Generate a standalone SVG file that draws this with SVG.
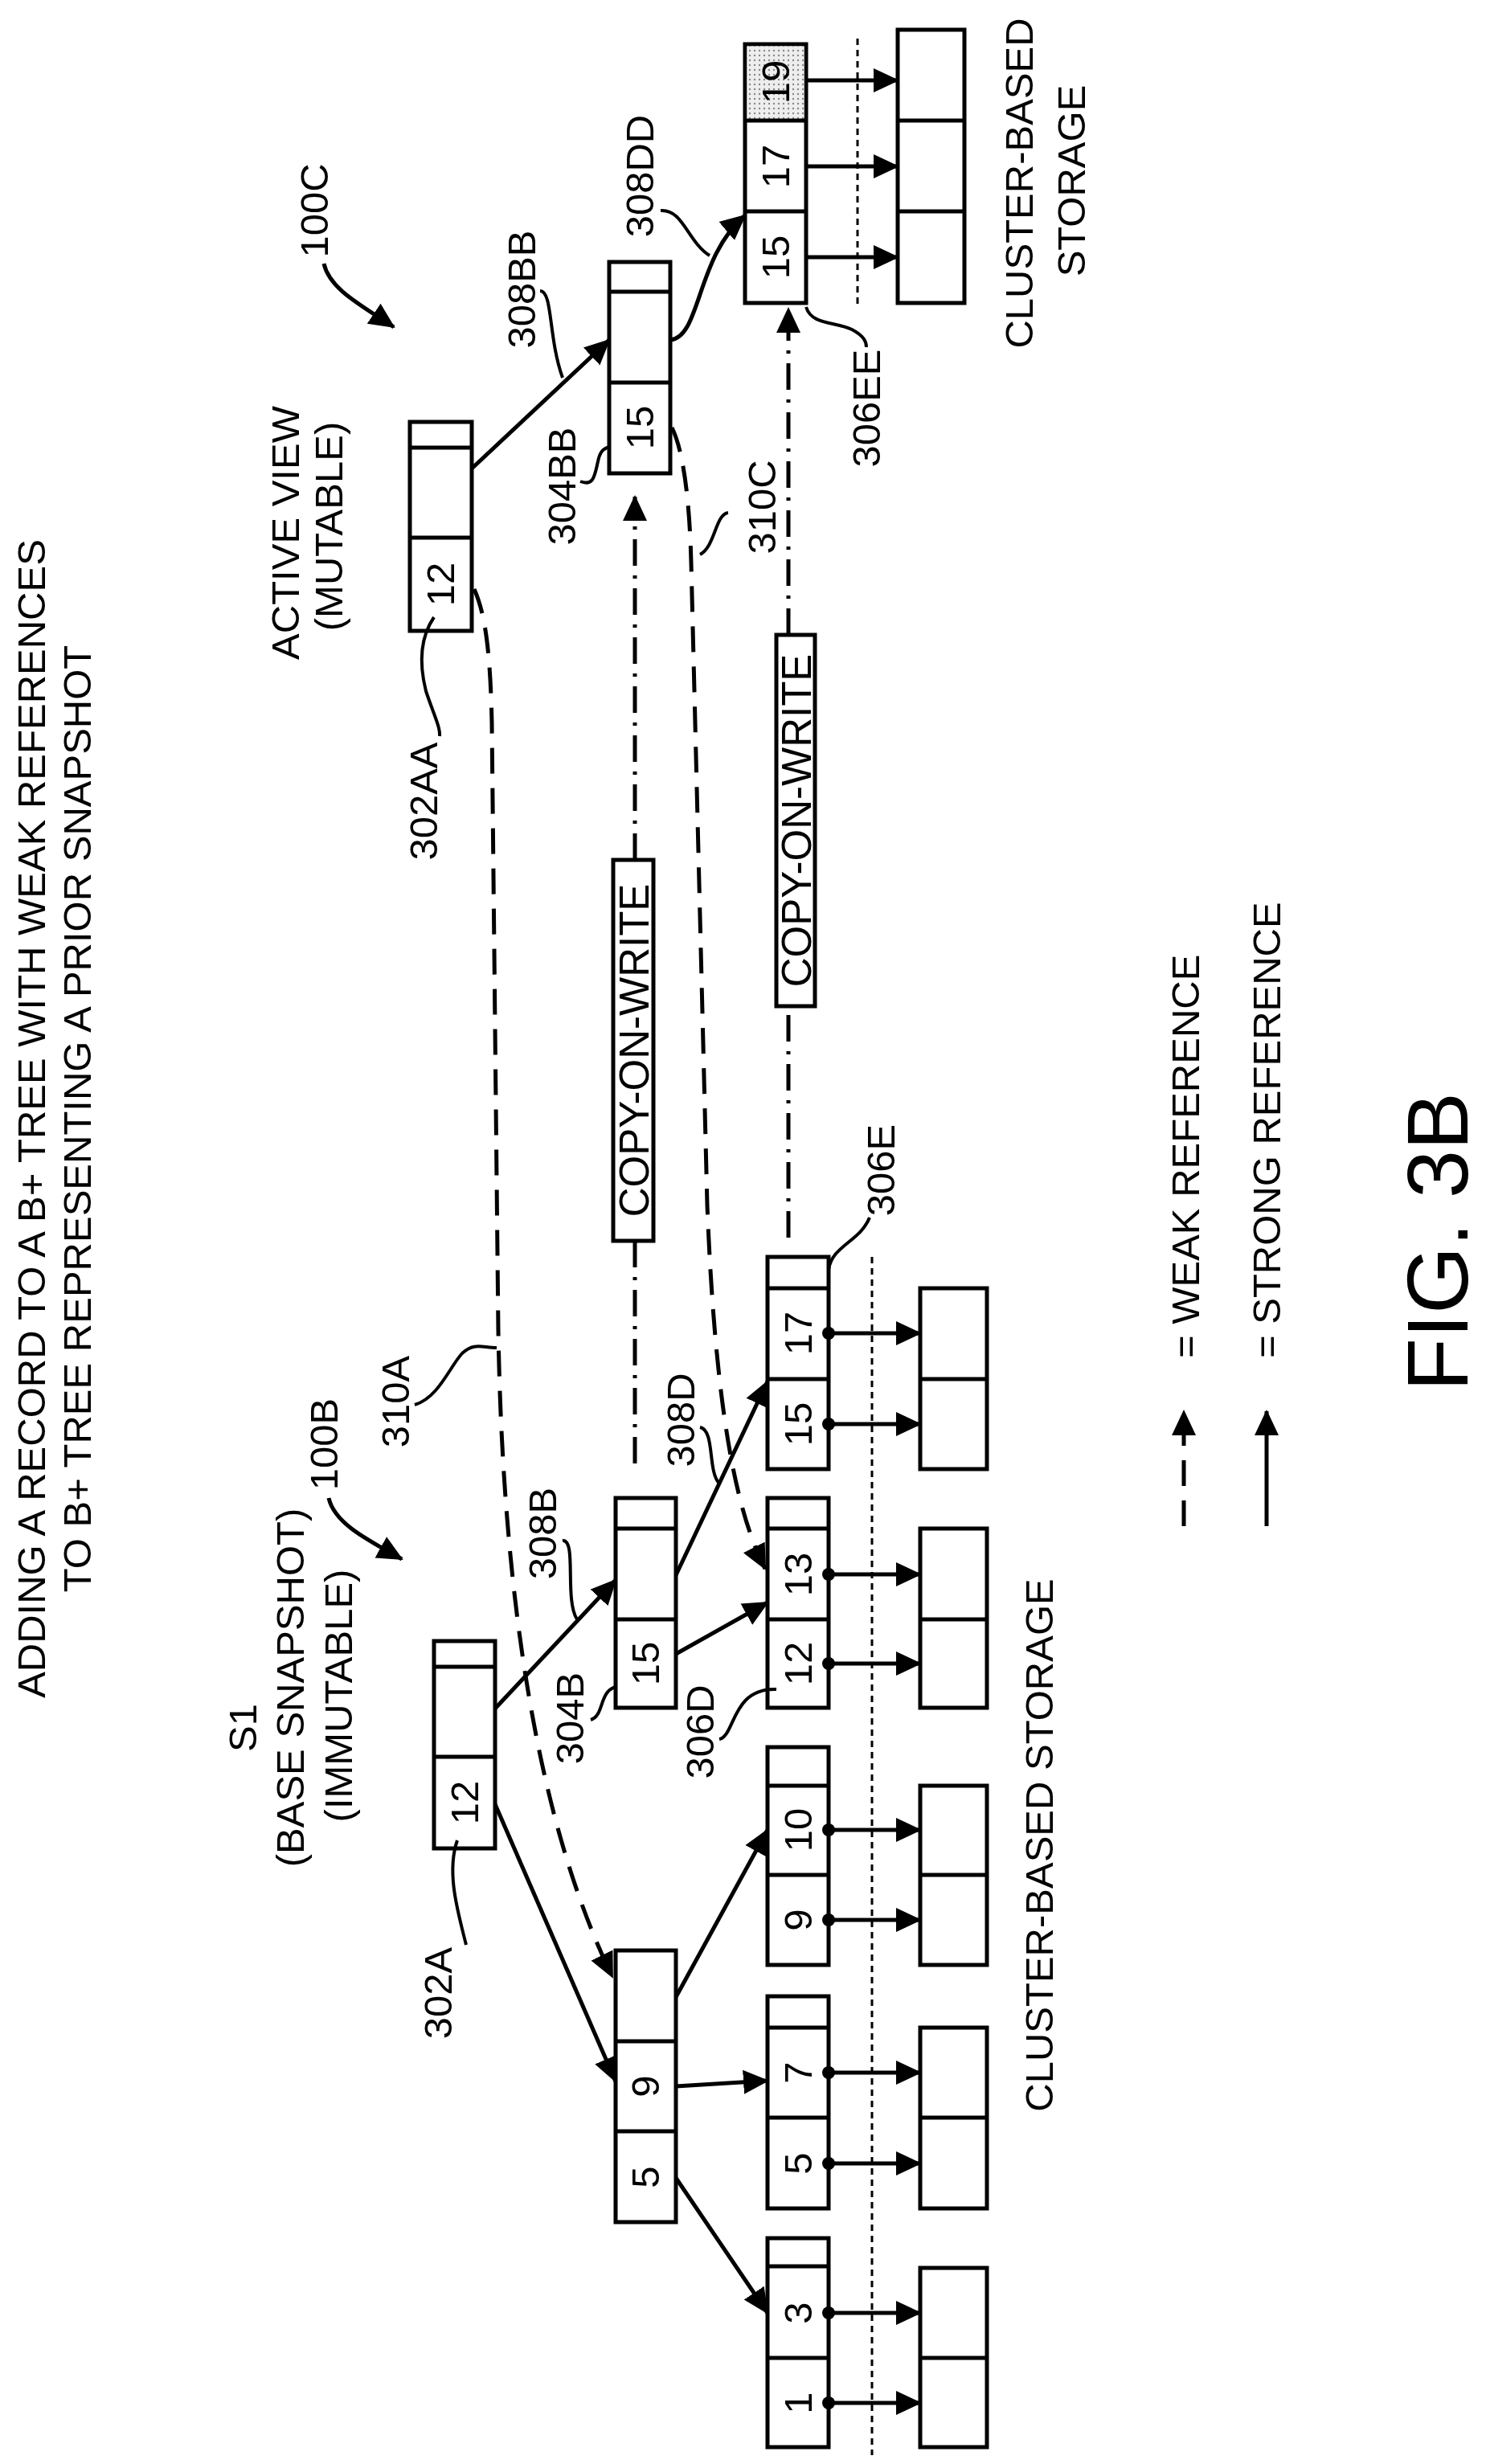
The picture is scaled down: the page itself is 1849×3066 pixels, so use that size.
<svg xmlns="http://www.w3.org/2000/svg" width="1849" height="3066" viewBox="0 0 1849 3066">
<style>
text{font-family:"Liberation Sans",Arial,sans-serif;font-size:49px;fill:#000;text-anchor:middle;dominant-baseline:central}
.box{fill:#fff;stroke:#000;stroke-width:5}
.ln{fill:none;stroke:#000;stroke-width:5}
.ld{fill:none;stroke:#000;stroke-width:4}
.weak{fill:none;stroke:#000;stroke-width:5;stroke-dasharray:32 18}
.dd{fill:none;stroke:#000;stroke-width:5;stroke-dasharray:33 12 4 12}
.dot{fill:none;stroke:#000;stroke-width:3;stroke-dasharray:8 6}
</style>
<defs>
<marker id="ah" markerUnits="userSpaceOnUse" markerWidth="32" markerHeight="32" viewBox="0 0 32 32" refX="30" refY="16" orient="auto"><path d="M0,1 L32,16 L0,31 Z" fill="#000"/></marker>
<pattern id="dots" width="6" height="6" patternUnits="userSpaceOnUse"><rect width="6" height="6" fill="#eee"/><circle cx="3" cy="3" r="1.2" fill="#888"/></pattern>
</defs>

<g id="title">
<text transform="translate(39,1392) rotate(-90)">ADDING A RECORD TO A B+ TREE WITH WEAK REFERENCES</text>
<text transform="translate(96,1392) rotate(-90)">TO B+ TREE REPRESENTING A PRIOR SNAPSHOT</text>
</g>

<g id="labels">
<text transform="translate(391,262) rotate(-90)">100C</text>
<text transform="translate(403,1797) rotate(-90)">100B</text>
<text transform="translate(355,663) rotate(-90)">ACTIVE VIEW</text>
<text transform="translate(409,655) rotate(-90)">(MUTABLE)</text>
<text transform="translate(302,2150) rotate(-90)">S1</text>
<text transform="translate(361,2100) rotate(-90)">(BASE SNAPSHOT)</text>
<text transform="translate(421,2110) rotate(-90)">(IMMUTABLE)</text>
<text transform="translate(527,997) rotate(-90)">302AA</text>
<text transform="translate(545,2480) rotate(-90)">302A</text>
<text transform="translate(699,605) rotate(-90)">304BB</text>
<text transform="translate(649,360) rotate(-90)">308BB</text>
<text transform="translate(796,219) rotate(-90)">308DD</text>
<text transform="translate(1078,508) rotate(-90)">306EE</text>
<text transform="translate(948,631) rotate(-90)">310C</text>
<text transform="translate(492,1744) rotate(-90)">310A</text>
<text transform="translate(709,2138) rotate(-90)">304B</text>
<text transform="translate(871,2155) rotate(-90)">306D</text>
<text transform="translate(675,1908) rotate(-90)">308B</text>
<text transform="translate(847,1767) rotate(-90)">308D</text>
<text transform="translate(1096,1456) rotate(-90)">306E</text>
<text transform="translate(1268,228) rotate(-90)">CLUSTER-BASED</text>
<text transform="translate(1333,225) rotate(-90)">STORAGE</text>
<text transform="translate(1293,2296) rotate(-90)">CLUSTER-BASED STORAGE</text>
<text transform="translate(1475,1690) rotate(-90)" style="text-anchor:start">= WEAK REFERENCE</text>
<text transform="translate(1576,1690) rotate(-90)" style="text-anchor:start">= STRONG REFERENCE</text>
<text transform="translate(1788,1545) rotate(-90)" style="font-size:108px">FIG. 3B</text>
</g>

<g id="n302AA"><rect class="box" x="510" y="525" width="77" height="260"/><path class="ln" d="M510,557H587M510,669H587"/><text transform="translate(548,727) rotate(-90)">12</text></g>
<g id="n304BB"><rect class="box" x="758" y="326" width="76" height="263"/><path class="ln" d="M758,363H834M758,476H834"/><text transform="translate(796,532) rotate(-90)">15</text></g>
<g id="n306EE"><rect class="box" x="927" y="55" width="76" height="322"/><rect x="929.5" y="57.5" width="71" height="92" fill="url(#dots)"/><path class="ln" d="M927,150H1003M927,263H1003"/><text transform="translate(965,102) rotate(-90)">19</text><text transform="translate(965,207) rotate(-90)">17</text><text transform="translate(965,320) rotate(-90)">15</text></g>
<g id="s306EE"><rect class="box" x="1117" y="37" width="83" height="340"/><path class="ln" d="M1117,150H1200M1117,263H1200"/></g>

<g id="n302A"><rect class="box" x="540" y="2042" width="76" height="258"/><path class="ln" d="M540,2074H616M540,2186H616"/><text transform="translate(578,2243) rotate(-90)">12</text></g>
<g id="n304B"><rect class="box" x="766" y="1864" width="75" height="261"/><path class="ln" d="M766,1902H841M766,2015H841"/><text transform="translate(803,2070) rotate(-90)">15</text></g>
<g id="n59"><rect class="box" x="766" y="2427" width="75" height="338"/><path class="ln" d="M766,2540H841M766,2652H841"/><text transform="translate(803,2596) rotate(-90)">9</text><text transform="translate(803,2709) rotate(-90)">5</text></g>

<g id="n306E"><rect class="box" x="955" y="1564" width="76" height="264"/><path class="ln" d="M955,1603H1031M955,1716H1031"/><text transform="translate(993,1659) rotate(-90)">17</text><text transform="translate(993,1772) rotate(-90)">15</text></g>
<g id="n306D"><rect class="box" x="955" y="1864" width="76" height="261"/><path class="ln" d="M955,1902H1031M955,2015H1031"/><text transform="translate(993,1959) rotate(-90)">13</text><text transform="translate(993,2070) rotate(-90)">12</text></g>
<g id="n910"><rect class="box" x="955" y="2174" width="76" height="271"/><path class="ln" d="M955,2222H1031M955,2333H1031"/><text transform="translate(993,2277) rotate(-90)">10</text><text transform="translate(993,2389) rotate(-90)">9</text></g>
<g id="n57"><rect class="box" x="955" y="2484" width="76" height="264"/><path class="ln" d="M955,2523H1031M955,2635H1031"/><text transform="translate(993,2579) rotate(-90)">7</text><text transform="translate(993,2692) rotate(-90)">5</text></g>
<g id="n13"><rect class="box" x="955" y="2785" width="76" height="260"/><path class="ln" d="M955,2820H1031M955,2934H1031"/><text transform="translate(993,2878) rotate(-90)">3</text><text transform="translate(993,2990) rotate(-90)">1</text></g>

<g id="storage">
<rect class="box" x="1145" y="1603" width="83" height="225"/><path class="ln" d="M1145,1716H1228"/>
<rect class="box" x="1145" y="1902" width="83" height="223"/><path class="ln" d="M1145,2015H1228"/>
<rect class="box" x="1145" y="2222" width="83" height="223"/><path class="ln" d="M1145,2333H1228"/>
<rect class="box" x="1145" y="2523" width="83" height="225"/><path class="ln" d="M1145,2635H1228"/>
<rect class="box" x="1145" y="2822" width="83" height="223"/><path class="ln" d="M1145,2934H1228"/>
</g>

<g id="cow1"><rect class="box" x="763" y="1070" width="50" height="474"/><text transform="translate(789,1307) rotate(-90)" style="font-size:51px">COPY-ON-WRITE</text></g>
<g id="cow2"><rect class="box" x="966" y="790" width="48" height="462"/><text transform="translate(991,1021) rotate(-90)" style="font-size:51px">COPY-ON-WRITE</text></g>

<g id="connectors">
<path class="dot" d="M1067,48V380M1085,1564V3055"/>
<path class="ln" marker-end="url(#ah)" d="M1003,100H1117"/>
<path class="ln" marker-end="url(#ah)" d="M1003,207H1117"/>
<path class="ln" marker-end="url(#ah)" d="M1003,320H1117"/>
<path class="ln" marker-end="url(#ah)" d="M1031,1659H1145"/>
<path class="ln" marker-end="url(#ah)" d="M1031,1772H1145"/>
<path class="ln" marker-end="url(#ah)" d="M1031,1959H1145"/>
<path class="ln" marker-end="url(#ah)" d="M1031,2070H1145"/>
<path class="ln" marker-end="url(#ah)" d="M1031,2277H1145"/>
<path class="ln" marker-end="url(#ah)" d="M1031,2389H1145"/>
<path class="ln" marker-end="url(#ah)" d="M1031,2579H1145"/>
<path class="ln" marker-end="url(#ah)" d="M1031,2692H1145"/>
<path class="ln" marker-end="url(#ah)" d="M1031,2878H1145"/>
<path class="ln" marker-end="url(#ah)" d="M1031,2990H1145"/>
<g fill="#000"><circle cx="1031" cy="1659" r="8"/><circle cx="1031" cy="1772" r="8"/><circle cx="1031" cy="1959" r="8"/><circle cx="1031" cy="2070" r="8"/><circle cx="1031" cy="2277" r="8"/><circle cx="1031" cy="2389" r="8"/><circle cx="1031" cy="2579" r="8"/><circle cx="1031" cy="2692" r="8"/><circle cx="1031" cy="2878" r="8"/><circle cx="1031" cy="2990" r="8"/></g>
<path class="ln" marker-end="url(#ah)" d="M587,583L758,423"/>
<path class="ln" marker-end="url(#ah)" d="M834,423C872,420 866,320 927,268"/>
<path class="ln" marker-end="url(#ah)" d="M616,2126L766,1966"/>
<path class="ln" marker-end="url(#ah)" d="M616,2245L766,2590"/>
<path class="ln" marker-end="url(#ah)" d="M841,1960L955,1719"/>
<path class="ln" marker-end="url(#ah)" d="M841,2058L955,1994"/>
<path class="ln" marker-end="url(#ah)" d="M841,2485L955,2277"/>
<path class="ln" marker-end="url(#ah)" d="M841,2596L955,2589"/>
<path class="ln" marker-end="url(#ah)" d="M841,2710L955,2878"/>
<path class="weak" marker-end="url(#ah)" d="M590,733C602,760 610,800 612,900L620,1656C625,1950 660,2250 762,2460"/>
<path class="weak" marker-end="url(#ah)" d="M836,532C850,560 858,620 860,700L880,1500C890,1750 915,1880 952,1952"/>
<path class="dd" d="M790,1821V1544"/>
<path class="dd" marker-end="url(#ah)" d="M790,1070V618"/>
<path class="dd" d="M981,1540V1252"/>
<path class="dd" marker-end="url(#ah)" d="M981,790V384"/>
<path class="weak" marker-end="url(#ah)" d="M1473,1899V1756"/>
<path class="ln" marker-end="url(#ah)" d="M1576,1899V1756"/>
<path class="ln" marker-end="url(#ah)" d="M403,328C410,360 450,380 490,407"/>
<path class="ln" marker-end="url(#ah)" d="M409,1864C416,1895 455,1915 500,1940"/>
<path class="ld" d="M540,768C525,790 520,820 530,860C540,890 548,905 547,916"/>
<path class="ld" d="M569,2290C555,2330 570,2380 580,2420"/>
<path class="ld" d="M722,599C740,606 740,590 745,570C748,560 752,558 758,556"/>
<path class="ld" d="M672,362C688,362 682,420 700,470"/>
<path class="ld" d="M822,262C850,260 855,300 883,318"/>
<path class="ld" d="M1003,382C1010,405 1040,400 1060,410C1075,418 1078,425 1078,432"/>
<path class="ld" d="M906,638C890,640 890,680 871,690"/>
<path class="ld" d="M516,1748C545,1740 560,1700 575,1684C590,1670 600,1677 618,1677"/>
<path class="ld" d="M735,2140C752,2135 745,2105 766,2099"/>
<path class="ld" d="M895,2164C915,2160 910,2100 966,2102"/>
<path class="ld" d="M700,1917C718,1915 702,1990 718,2015"/>
<path class="ld" d="M871,1776C890,1780 880,1830 895,1846"/>
<path class="ld" d="M1082,1515C1070,1545 1035,1550 1031,1580"/>
</g>
</svg>
